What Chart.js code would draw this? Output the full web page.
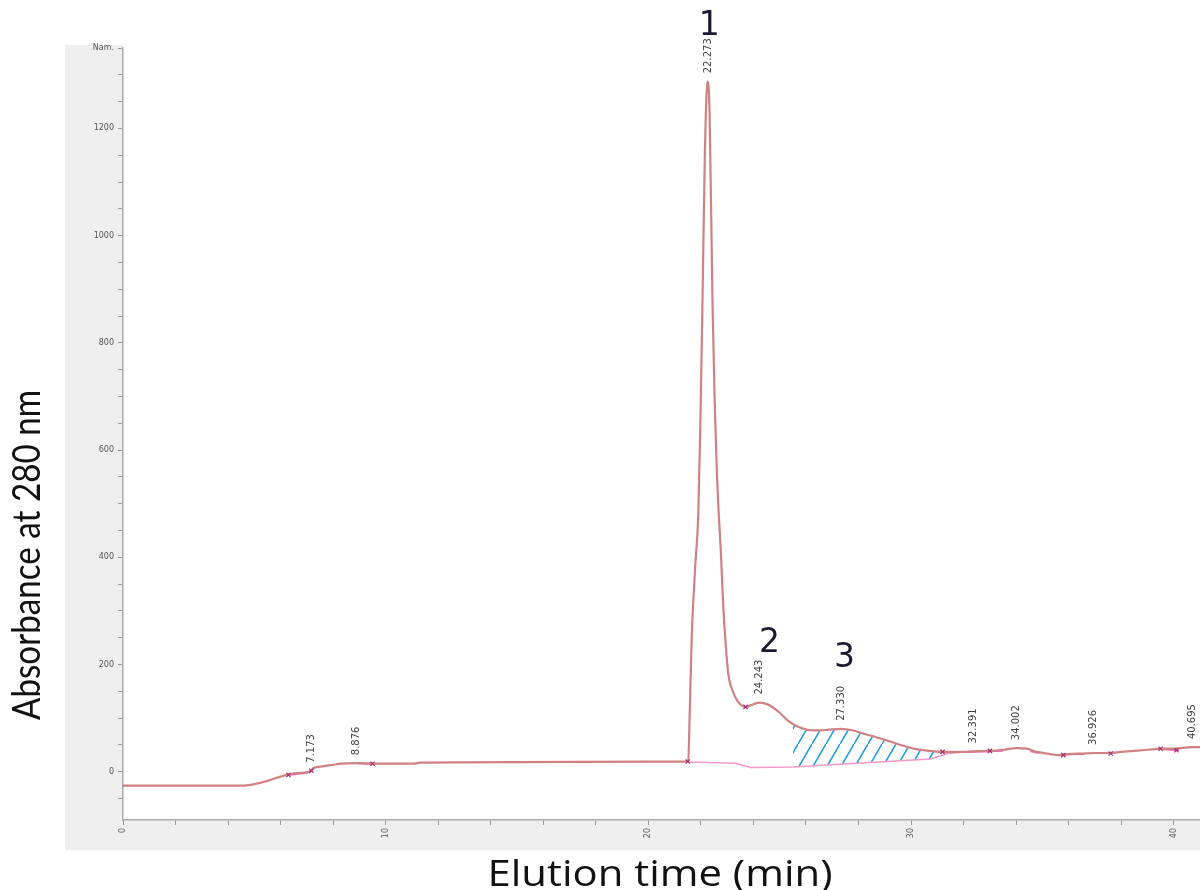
<!DOCTYPE html>
<html>
<head>
<meta charset="utf-8">
<script src="https://cdn.jsdelivr.net/npm/chart.js@4/dist/chart.umd.min.js"></script>
<style>
  html, body { margin: 0; padding: 0; background: #fff; overflow: hidden; }
  canvas { display: block; }
</style>
</head>
<body>
<canvas id="chromatogram" width="1200" height="890"></canvas>
<script>
// elution time (min) and absorbance
const times = [0, 2, 4, 4.5, 5.0, 5.5, 6.0, 6.5, 7.0, 7.17, 7.25, 7.6, 8.0, 8.3, 8.9, 9.5, 11.1, 11.3, 15, 20, 21.4,
  21.52, 21.57, 21.65, 21.78, 21.9, 21.98, 22.06, 22.15, 22.25, 22.33, 22.44, 22.52, 22.6, 22.68, 22.76, 22.84, 22.94,
  23.05, 23.2, 23.39, 23.55, 23.7, 24.0, 24.24, 24.45, 24.65, 25.0, 25.3, 25.7, 26.3, 26.8, 27.33, 27.8, 28.2, 28.7, 29.1,
  29.6, 30.1, 30.7, 31.2, 32.0, 32.4, 33.0, 33.5, 34.0, 34.4, 34.8, 35.3, 35.6, 36.0, 36.5, 37.0, 37.5, 38.0, 38.5,
  39.0, 39.5, 40.0, 40.7, 41.0];
const absorbance = [-26, -26, -26, -26, -23, -17, -9, -3, -1, 2, 7, 10, 13, 15, 16, 15, 15, 17, 18, 19, 19,
  20, 100, 250, 380, 480, 650, 877, 1150, 1288, 1230, 880, 700, 570, 480, 410, 320, 240,
  180, 152, 132, 124, 121, 126, 129, 127, 123, 110, 96, 84, 77, 78, 80, 77, 71, 64, 58,
  50, 43, 39, 37, 37, 38, 39, 41, 44, 43, 37, 33, 31, 33, 34, 35, 35, 37, 39,
  41, 43, 43, 46, 46];

// integration baseline under peaks 1-3
const baseTimes = [21.5, 23.3, 23.9, 25.5, 30.74, 31.4, 32.0];
const baseValues = [18, 16, 8, 9, 24, 34, 37];

// magenta baseline pieces drawn over the trace (null = break)
const segTimes = [6.3, 7.1, 7.2, 8.9, 9.5, 9.6, 32.0, 33.5, 33.6, 34.55, 34.9, 35.0, 35.7, 36.6, 36.7, 39.6, 40.2];
const segValues = [-6, -1, null, 16, 15, null, 37, 39, null, 38, 35, null, 32, 33, null, 42, 40];

// hatched area of peak 3
const hatchTimes = [25.5, 26.0, 26.5, 27.0, 27.5, 28.0, 28.5, 29.0, 29.5, 30.0, 30.5, 30.9];
const hatchUpper = [88, 79, 77, 79, 80, 74, 67, 60, 52, 45, 40, 38];
const hatchLower = [9, 10, 11, 13, 14, 16, 17, 19, 20, 22, 23, 24];

// integration marks
const markTimes = [6.3, 7.17, 9.5, 21.5, 23.7, 31.2, 33.0, 35.8, 37.6, 39.5, 40.1];
const markValues = [-6, 2, 15, 19, 121, 37, 39, 31, 34, 43, 40];

// retention time labels
const peakTimes = [7.173, 8.876, 22.273, 24.243, 27.330, 32.391, 34.002, 36.926, 40.695];
const peakHeights = [2, 16, 1288, 129, 80, 38, 44, 35, 46];

// peak numbers
const peakNames = ['1', '2', '3'];
const peakNameTimes = [22.32, 24.61, 27.47];
const peakNameValues = [1390, 239, 211];

// axis ticks
const xTickLabels = [0, 10, 20, 30, 40];
const yTickLabels = [0, 200, 400, 600, 800, 1000, 1200];
const yUnitLabel = 'Nam.';

function pts(xs, ys) {
  return xs.map((x, i) => ({ x: x, y: ys[i] }));
}

function hatchPattern() {
  const c = document.createElement('canvas');
  c.width = 14;
  c.height = 24;
  const g = c.getContext('2d');
  g.strokeStyle = '#1f9fe0';
  g.lineWidth = 1.6;
  g.beginPath();
  g.moveTo(-2, 24 + 2 * 24 / 14);
  g.lineTo(16, -2 * 24 / 14);
  g.stroke();
  return g.createPattern(c, 'repeat');
}

const panel = {
  id: 'panel',
  beforeDraw(chart) {
    const ctx = chart.ctx;
    const a = chart.chartArea;
    ctx.save();
    ctx.fillStyle = '#efefef';
    ctx.fillRect(65, 45, chart.width - 65, 805);
    ctx.fillStyle = '#ffffff';
    ctx.fillRect(a.left, 45, chart.width - a.left, a.bottom - 45);
    ctx.restore();
  }
};

function fitText(ctx, text, width) {
  const w = ctx.measureText(text).width;
  ctx.scale(width / w, 1);
  ctx.fillText(text, 0, 0);
}

const annotations = {
  id: 'annotations',
  afterDraw(chart) {
    const ctx = chart.ctx;
    const xs = chart.scales.x;
    const ys = chart.scales.y;

    ctx.save();
    ctx.fillStyle = '#444';
    ctx.font = '10px "DejaVu Sans"';
    ctx.textAlign = 'left';
    ctx.textBaseline = 'middle';
    peakTimes.forEach((t, i) => {
      ctx.save();
      ctx.translate(xs.getPixelForValue(t), ys.getPixelForValue(peakHeights[i]) - 8);
      ctx.rotate(-Math.PI / 2);
      ctx.fillText(t.toFixed(3), 0, 0);
      ctx.restore();
    });

    ctx.fillStyle = '#1a1a30';
    ctx.font = '33px "DejaVu Sans"';
    ctx.textAlign = 'center';
    peakNames.forEach((n, i) => {
      ctx.fillText(n, xs.getPixelForValue(peakNameTimes[i]), ys.getPixelForValue(peakNameValues[i]));
    });

    ctx.fillStyle = '#111';
    ctx.textBaseline = 'alphabetic';
    ctx.save();
    ctx.font = '39px Lato';
    ctx.translate(40, 555);
    ctx.rotate(-Math.PI / 2);
    fitText(ctx, 'Absorbance at 280 nm', 330);
    ctx.restore();

    ctx.save();
    ctx.font = '36px "Open Sans"';
    ctx.translate(660, 886);
    fitText(ctx, 'Elution time (min)', 345);
    ctx.restore();
    ctx.restore();
  }
};

const canvasChart = document.querySelector('#chromatogram');

let config = {
  type: 'line',
  data: {
    datasets: [
      {
        label: 'marks',
        data: pts(markTimes, markValues),
        showLine: false,
        pointStyle: 'crossRot',
        pointRadius: 3,
        pointBorderColor: '#a03070',
        pointBorderWidth: 1.2,
        order: -1,
      },
      {
        label: 'A280',
        data: pts(times, absorbance),
        borderColor: '#d08282',
        borderWidth: 2.2,
        pointRadius: 0,
        cubicInterpolationMode: 'monotone',
        order: 0,
      },
      {
        label: 'segments',
        data: pts(segTimes, segValues),
        borderColor: 'rgba(225, 40, 170, 0.75)',
        borderWidth: 2,
        pointRadius: 0,
        spanGaps: false,
        order: 1,
      },
      {
        label: 'baseline',
        data: pts(baseTimes, baseValues),
        borderColor: '#f59ac8',
        borderWidth: 1.5,
        pointRadius: 0,
        order: 2,
      },
      {
        label: 'hatch lower',
        data: pts(hatchTimes, hatchLower),
        borderWidth: 0,
        pointRadius: 0,
        fill: false,
        order: 3,
      },
      {
        label: 'hatch upper',
        data: pts(hatchTimes, hatchUpper),
        borderWidth: 0,
        pointRadius: 0,
        cubicInterpolationMode: 'monotone',
        backgroundColor: hatchPattern(),
        fill: '-1',
        order: 3,
      },
    ],
  },
  options: {
    responsive: false,
    animation: false,
    layout: { autoPadding: false, padding: { left: 0, right: 0, top: 48, bottom: 0 } },
    plugins: {
      legend: { display: false },
      tooltip: { enabled: false },
    },
    scales: {
      x: {
        type: 'linear',
        min: 0,
        max: 41,
        afterBuildTicks(scale) {
          scale.ticks = scale.ticks.filter(t => t.value % 2 === 0);
        },
        afterFit(scale) {
          scale.height = 70;
          scale.paddingLeft = 0;
          scale.paddingRight = 0;
        },
        ticks: {
          stepSize: 2,
          minRotation: 90,
          maxRotation: 90,
          autoSkip: false,
          padding: 3,
          color: '#555',
          font: { size: 8, family: 'DejaVu Sans' },
          callback: v => xTickLabels.includes(v) ? String(v) : '',
        },
        grid: { drawOnChartArea: false, tickLength: 5, color: '#999' },
        border: { color: '#aaa', width: 1.5 },
      },
      y: {
        min: -90,
        max: 1350,
        afterBuildTicks(scale) {
          scale.ticks = scale.ticks.filter(t => t.value % 50 === 0);
        },
        afterFit(scale) {
          scale.width = 123;
          scale.paddingTop = 0;
          scale.paddingBottom = 0;
        },
        ticks: {
          stepSize: 50,
          autoSkip: false,
          padding: 4,
          color: '#555',
          font: { size: 8, family: 'DejaVu Sans' },
          callback: v => yTickLabels.includes(v) ? String(v) : (v === 1350 ? yUnitLabel : ''),
        },
        grid: { drawOnChartArea: false, tickLength: 5, color: '#999' },
        border: { color: '#aaa', width: 1.5 },
      },
    },
  },
  plugins: [panel, annotations],
};

let chart = new Chart(canvasChart, config);
</script>
</body>
</html>
